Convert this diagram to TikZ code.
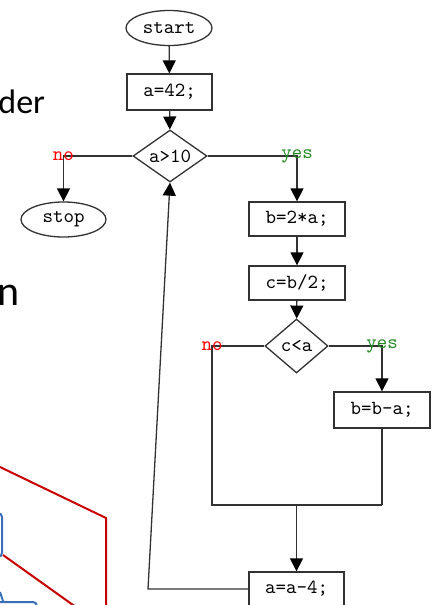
\documentclass[tikz,border=0pt]{standalone}
\usepackage{fontspec}
\newfontfamily\slidefont{Carlito}
\usetikzlibrary{shapes.geometric,arrows.meta}
\definecolor{linegray}{RGB}{50,50,50}
\definecolor{slidered}{RGB}{200,0,0}
\definecolor{noRed}{RGB}{255,0,0}
\definecolor{yesGreen}{RGB}{34,139,34}
\definecolor{slideblue}{RGB}{58,110,182}
\begin{document}
\begin{tikzpicture}[x=0.5pt,y=-0.5pt,
  every node/.style={font=\ttfamily, inner sep=0pt},
  term/.style={ellipse, draw=linegray, line width=0.65pt, minimum width=43pt, minimum height=17.5pt},
  proc/.style={rectangle, draw=linegray, line width=0.65pt, minimum width=48pt, minimum height=17pt},
  test/.style={diamond, draw=linegray, line width=0.65pt, shape aspect=1.4},
  flow/.style={draw=linegray, line width=0.65pt},
  arr/.style={flow, -{Triangle[length=6.5pt,width=6.5pt,color=black]}},
  nolbl/.style={text=noRed},
  yeslbl/.style={text=yesGreen},
  slidetext/.style={font=\slidefont, anchor=base west, text=black},
  redline/.style={draw=slidered, line width=1pt},
  bluebox/.style={draw=slideblue, line width=1pt, rounded corners=2pt},
]
\useasboundingbox (0,0) rectangle (436,605);

% slide text fragments on the left
\node[slidetext, font=\slidefont\fontsize{17}{20}\selectfont] (t1) at (-2,113) {der};
\node[slidetext, font=\slidefont\fontsize{21}{25}\selectfont] (t2) at (-3,305) {n};

% red outline and blue boxes at the lower left
\draw[redline] (0,467) -- (106,518) -- (106,615);
\draw[redline] (3,555) -- (80,610);
\draw[bluebox] (-40,513) rectangle (2,557);
\draw[bluebox] (-20,602) rectangle (37,640);
\draw[draw=slideblue, line width=1pt] (0,592) -- (3,601);

% flowchart nodes
\node[term] (start) at (169,28) {start};
\node[proc, minimum width=42.5pt, minimum height=18pt] (a42) at (169.5,92) {a=42;};
\node[test, minimum width=37pt, minimum height=26pt] (c1) at (170,156) {a>10};
\node[term, minimum width=42.5pt] (stop) at (63.5,219.5) {stop};
\node[proc] (b2a) at (297,219) {b=2*a;};
\node[proc] (cb2) at (297,283) {c=b/2;};
\node[test, minimum width=31.5pt, minimum height=27pt, shape aspect=1.17] (c2) at (296.5,346) {c<a};
\node[proc, minimum height=18pt] (bba) at (382,410) {b=b-a;};
\node[proc, minimum width=47.5pt] (a4) at (296.5,589) {a=a-4;};

\coordinate (jl) at (212,505);
\coordinate (jr) at (382,505);
\coordinate (lp) at (148,589);

% connectors
\draw[arr] (start) -- (a42);
\draw[arr] (a42) -- (c1);
\draw[arr] (c1.west) -| node[nolbl]{no} (stop);
\draw[arr] (c1.east) -| node[yeslbl]{yes} (b2a);
\draw[arr] (b2a) -- (cb2);
\draw[arr] (cb2) -- (c2);
\draw[arr] (c2.east) -| node[yeslbl]{yes} (bba);
\draw[flow] (c2.west) -| node[nolbl]{no} (jl) -- (jr);
\draw[flow] (bba) -- (jr);
\draw[arr] (a4.north |- jl) -- (a4);
\draw[arr] (a4.west) -- (lp) -- (c1.south);
\end{tikzpicture}
\end{document}
